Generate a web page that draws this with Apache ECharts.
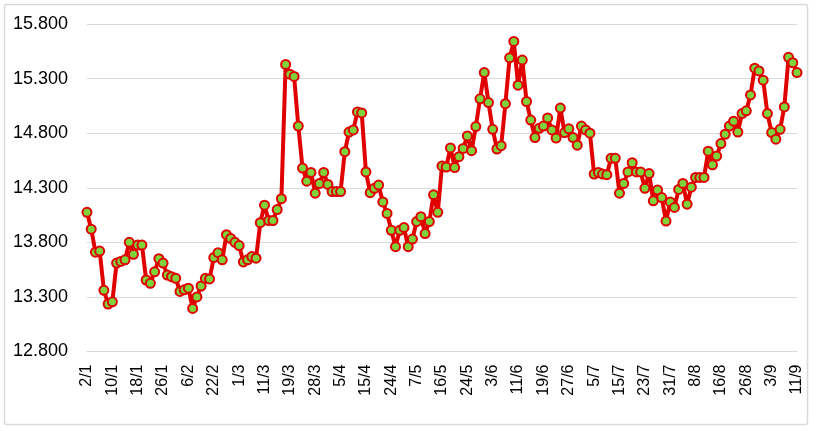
<!DOCTYPE html>
<html>
<head>
<meta charset="utf-8">
<script src="https://cdn.jsdelivr.net/npm/echarts@6/dist/echarts.min.js"></script>
<style>
html,body{margin:0;padding:0;background:#fff;}
#chart{width:816px;height:431px;}
</style>
</head>
<body>
<div id="chart"></div>
<script>
var categories = [
"2/1","3/1","4/1","5/1","8/1","9/1","10/1","11/1","12/1","15/1","16/1","17/1",
"18/1","19/1","22/1","23/1","24/1","25/1","26/1","29/1","30/1","31/1","1/2","2/2",
"6/2","7/2","8/2","9/2","12/2","21/2","22/2","23/2","24/2","26/2","27/2","28/2",
"1/3","2/3","5/3","6/3","7/3","8/3","11/3","12/3","13/3","14/3","15/3","18/3",
"19/3","20/3","21/3","22/3","25/3","26/3","28/3","29/3","1/4","2/4","3/4","4/4",
"5/4","8/4","9/4","10/4","11/4","12/4","15/4","16/4","17/4","18/4","19/4","22/4",
"24/4","25/4","26/4","29/4","2/5","6/5","7/5","8/5","9/5","10/5","13/5","14/5",
"16/5","17/5","20/5","21/5","22/5","23/5","24/5","27/5","28/5","29/5","30/5","31/5",
"3/6","4/6","5/6","6/6","7/6","10/6","11/6","12/6","13/6","14/6","17/6","18/6",
"19/6","20/6","21/6","24/6","25/6","26/6","27/6","28/6","1/7","2/7","3/7","4/7",
"5/7","8/7","9/7","10/7","11/7","12/7","15/7","16/7","17/7","18/7","19/7","22/7",
"23/7","24/7","25/7","26/7","29/7","30/7","31/7","1/8","2/8","5/8","6/8","7/8",
"8/8","9/8","12/8","13/8","14/8","15/8","16/8","19/8","20/8","21/8","22/8","23/8",
"26/8","27/8","28/8","29/8","30/8","31/8","3/9","4/9","5/9","6/9","9/9","10/9",
"11/9"
];

var values = [
14.075,13.92,13.71,13.72,13.36,13.235,13.255,13.61,13.625,13.64,13.80,13.69,
13.775,13.775,13.455,13.425,13.53,13.65,13.61,13.50,13.485,13.47,13.35,13.365,
13.38,13.195,13.30,13.40,13.47,13.465,13.66,13.705,13.64,13.87,13.835,13.80,
13.77,13.62,13.64,13.67,13.655,13.98,14.14,14.00,14.00,14.10,14.20,15.43,
15.34,15.32,14.865,14.48,14.36,14.44,14.25,14.34,14.44,14.33,14.265,14.265,
14.265,14.63,14.81,14.83,14.995,14.985,14.445,14.255,14.295,14.325,14.17,14.065,
13.91,13.76,13.91,13.935,13.76,13.83,13.99,14.035,13.88,13.99,14.235,14.075,
14.50,14.49,14.665,14.485,14.585,14.66,14.775,14.64,14.86,15.115,15.355,15.08,
14.835,14.655,14.685,15.07,15.49,15.64,15.24,15.47,15.09,14.92,14.76,14.845,
14.865,14.94,14.83,14.755,15.03,14.805,14.84,14.76,14.69,14.865,14.83,14.80,
14.425,14.44,14.425,14.42,14.57,14.57,14.25,14.34,14.445,14.53,14.445,14.445,
14.295,14.43,14.18,14.28,14.21,13.995,14.17,14.12,14.285,14.34,14.15,14.305,
14.395,14.395,14.395,14.635,14.51,14.59,14.705,14.79,14.865,14.91,14.81,14.98,
15.005,15.15,15.395,15.37,15.285,14.98,14.805,14.745,14.835,15.04,15.495,15.445,
15.355
];

var yMin = 12.8, yMax = 15.8, yStep = 0.5;

var chart = echarts.init(document.getElementById('chart'), null, {renderer:'canvas'});
chart.setOption({
  animation: false,
  backgroundColor: '#ffffff',
  graphic: [{
    type: 'rect',
    shape: {x: 4.5, y: 4.5, width: 803, height: 420, r: 2},
    style: {fill: 'none', stroke: '#d9d9d9', lineWidth: 1.5},
    silent: true
  }],
  grid: {left: 87, right: 19, top: 24, bottom: 79.5, containLabel: false},
  xAxis: {
    type: 'category',
    data: categories,
    boundaryGap: false,
    axisLine: {show: true, lineStyle: {color: '#d9d9d9', width: 1}},
    axisTick: {show: false},
    axisLabel: {
      interval: 5,
      rotate: 90,
      margin: 13,
      fontSize: 16,
      color: '#000',
      fontFamily: 'Liberation Sans, Arial, sans-serif'
    },
    splitLine: {show: false}
  },
  yAxis: {
    type: 'value',
    min: yMin,
    max: yMax,
    interval: yStep,
    axisLine: {show: false},
    axisTick: {show: false},
    axisLabel: {
      margin: 19,
      fontSize: 18,
      color: '#000',
      fontFamily: 'Liberation Sans, Arial, sans-serif',
      formatter: function (v) { return v.toFixed(3); }
    },
    splitLine: {show: true, lineStyle: {color: '#d9d9d9', width: 1}}
  },
  series: [{
    type: 'line',
    data: values,
    symbol: 'circle',
    symbolSize: 9,
    showSymbol: true,
    showAllSymbol: true,
    lineStyle: {color: '#e00000', width: 4},
    itemStyle: {color: '#7ed23c', borderColor: '#e00000', borderWidth: 2},
    emphasis: {disabled: true}
  }]
});
</script>
</body>
</html>
